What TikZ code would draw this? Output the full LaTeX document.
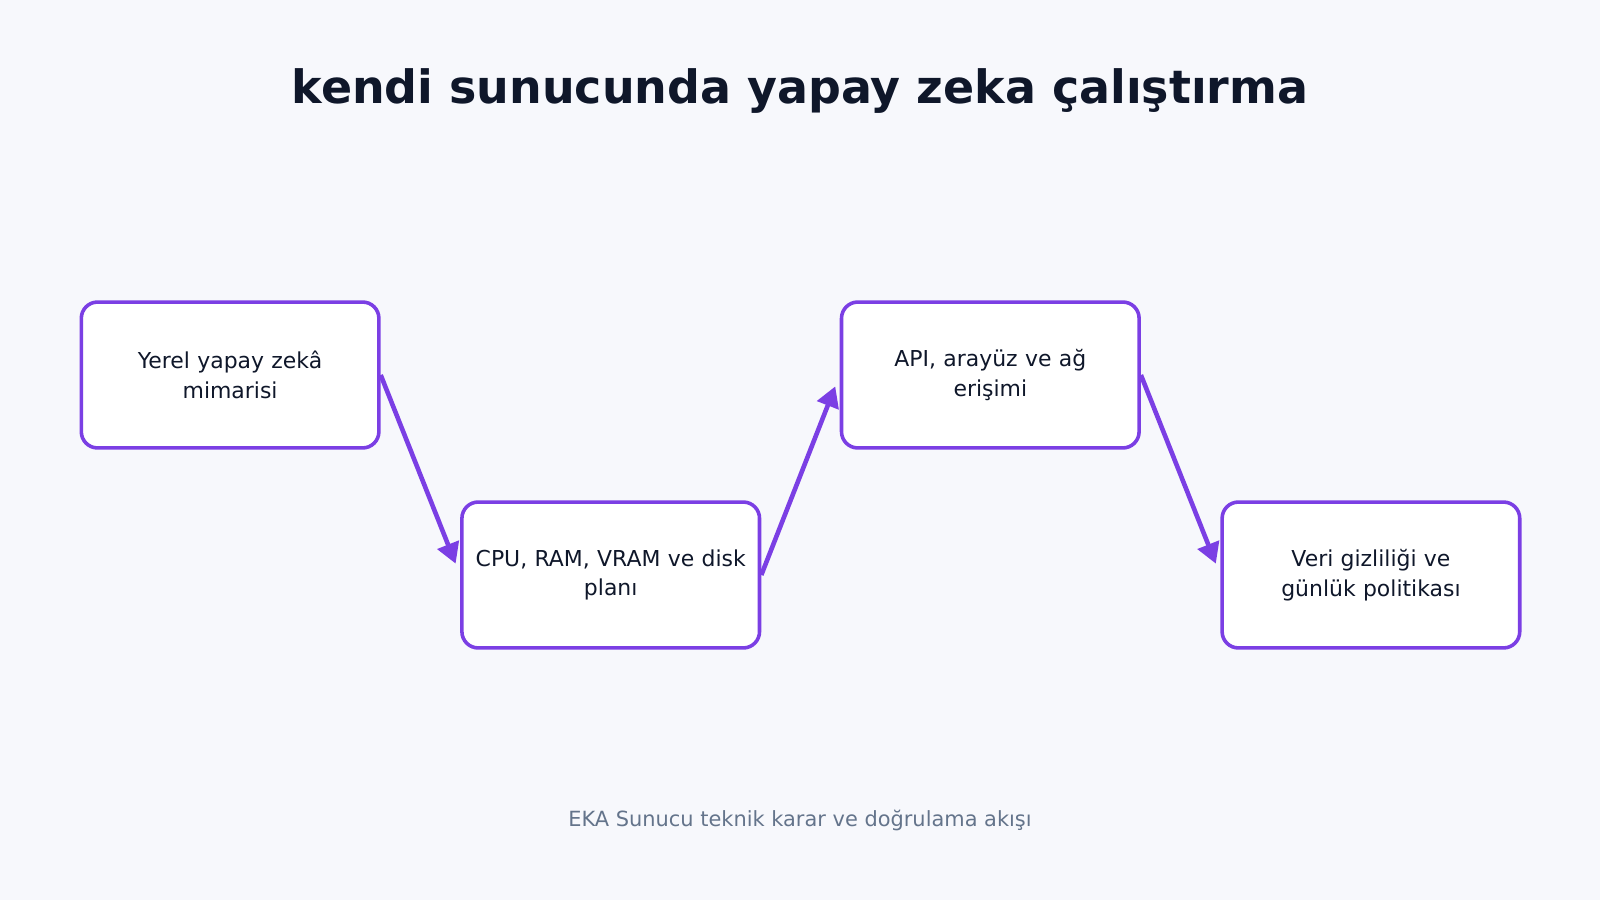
\documentclass[tikz,border=0pt]{standalone}
\usepackage{fontspec}
\setmainfont{DejaVu Sans}
\usetikzlibrary{arrows.meta}
\definecolor{bgc}{HTML}{F7F8FC}
\definecolor{violet}{HTML}{7B3FE4}
\definecolor{ink}{HTML}{0F172A}
\definecolor{muted}{HTML}{64748B}
\begin{document}
\begin{tikzpicture}[x=1pt, y=-1pt,
  stage/.style={draw=violet, line width=3.5pt, fill=white, rounded corners=16pt,
    minimum width=291pt, minimum height=143pt, align=center, text width=285pt,
    font=\fontsize{21.5}{29}\selectfont, text=ink},
  flow/.style={draw=violet, line width=4.5pt, -{Triangle[length=20pt,width=22pt]}, shorten >=12pt}]
  \fill[bgc] (0,0) rectangle (1568,882);
  \useasboundingbox (0,0) rectangle (1568,882);
  % title
  \node[font=\bfseries\fontsize{45}{54}\selectfont, text=ink] (title) at (784,89) {kendi sunucunda yapay zeka çalıştırma};
  % stages
  \node[stage] (arch) at (225.5,367.5) {Yerel yapay zekâ\\mimarisi};
  \node[stage] (plan) at (598.5,563.5) {CPU, RAM, VRAM ve disk\\planı};
  \node[stage] (api) at (970.5,367.5) {API, arayüz ve ağ\\erişimi};
  \node[stage] (priv) at (1343.5,563.5) {Veri gizliliği ve\\günlük politikası};
  % links
  \draw[flow] (arch.east) -- (plan.west);
  \draw[flow] (plan.east) -- (api.west);
  \draw[flow] (api.east) -- (priv.west);
  % footer
  \node[font=\fontsize{20.5}{25}\selectfont, text=muted] (foot) at (784,804) {EKA Sunucu teknik karar ve doğrulama akışı};
\end{tikzpicture}
\end{document}
